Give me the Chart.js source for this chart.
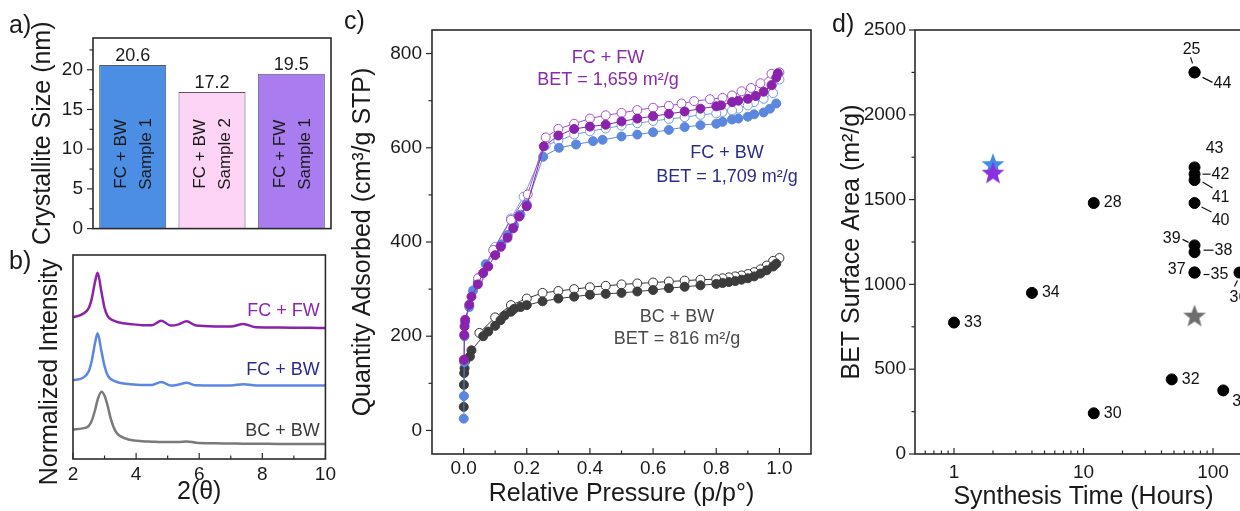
<!DOCTYPE html>
<html>
<head>
<meta charset="utf-8">
<script src="https://cdn.jsdelivr.net/npm/chart.js@4.4.1/dist/chart.umd.min.js"></script>
<style>
html, body { margin: 0; padding: 0; background: #fff; }
#page { position: relative; width: 1240px; height: 511px; overflow: hidden; }
#page canvas { position: absolute; }
</style>
</head>
<body>
<div id="page">
    <canvas id="sizeChart" width="340" height="250" style="left:0;top:0"></canvas>
    <canvas id="xrdChart" width="340" height="261" style="left:0;top:250px"></canvas>
    <canvas id="isoChart" width="480" height="511" style="left:340px;top:0"></canvas>
    <canvas id="betChart" width="440" height="511" style="left:830px;top:0"></canvas>
</div>
<script>
//a) crystallite size
let sizeLabels = [["FC + BW", "Sample 1"], ["FC + BW", "Sample 2"], ["FC + FW", "Sample 1"]];
let sizeValues = [20.6, 17.2, 19.5];
let sizeTicks = [0, 5, 10, 15, 20];
let sizeMinor = [2.5, 7.5, 12.5, 17.5, 22.5];

//b) xrd patterns
let xrdNames = ["FC + FW", "FC + BW", "BC + BW"];
let xrdTheta = [2.0, 2.3, 2.5, 2.6, 2.7, 2.78, 2.9, 3.0, 3.1, 3.2, 3.35, 3.5, 3.8, 4.2, 4.5, 4.8, 5.1, 5.35, 5.6, 5.9, 6.5, 7.0, 7.4, 7.8, 8.5, 9.5, 10.0];
let xrdFCFW = [6.95, 7.1, 7.4, 7.9, 8.7, 9.13, 8.2, 7.4, 7.0, 6.85, 6.75, 6.68, 6.62, 6.56, 6.56, 6.78, 6.54, 6.6, 6.75, 6.54, 6.5, 6.5, 6.62, 6.46, 6.45, 6.43, 6.42];
let xrdFCBW = [3.87, 3.97, 4.3, 4.85, 5.7, 6.16, 5.3, 4.55, 4.1, 3.92, 3.8, 3.73, 3.67, 3.63, 3.63, 3.78, 3.6, 3.65, 3.74, 3.61, 3.6, 3.6, 3.67, 3.6, 3.6, 3.6, 3.6];
let xrdBCBW = [1.45, 1.5, 1.62, 1.9, 2.4, 2.9, 3.3, 3.1, 2.6, 1.95, 1.35, 1.12, 0.94, 0.87, 0.85, 0.83, 0.83, 0.83, 0.86, 0.8, 0.77, 0.76, 0.75, 0.75, 0.74, 0.74, 0.73];
let thetaTicks = [2, 4, 6, 8, 10];
let thetaMinor = [3, 5, 7, 9];

//c) N2 isotherms (relative pressure, quantity adsorbed)
let fwAdsP = [0.001, 0.002, 0.003, 0.005, 0.018, 0.025, 0.045, 0.062, 0.078, 0.1, 0.118, 0.139, 0.157, 0.176, 0.2, 0.254, 0.3, 0.35, 0.4, 0.45, 0.5, 0.55, 0.6, 0.65, 0.7, 0.75, 0.8, 0.815, 0.85, 0.87, 0.9, 0.925, 0.95, 0.975, 0.99, 0.995];
let fwAdsV = [150, 203, 221, 235, 267, 284, 310, 334, 348, 372, 390, 409, 429, 454, 476, 603, 626, 640, 645, 649, 656, 662, 667, 672, 677, 683, 688, 690, 697, 700, 704, 710, 719, 733, 749, 758];
let fwDesP = [1.0, 0.975, 0.94, 0.91, 0.88, 0.85, 0.82, 0.78, 0.73, 0.69, 0.65, 0.6, 0.55, 0.5, 0.45, 0.4, 0.35, 0.3, 0.26, 0.203, 0.15, 0.094, 0.046];
let fwDesV = [760, 757, 737, 727, 720, 711, 706, 703, 699, 694, 689, 685, 680, 674, 669, 662, 651, 640, 622, 501, 447, 383, 323];
let bwAdsP = [0.0005, 0.001, 0.002, 0.003, 0.005, 0.018, 0.03, 0.045, 0.07, 0.1, 0.12, 0.14, 0.16, 0.18, 0.2, 0.252, 0.302, 0.356, 0.41, 0.44, 0.5, 0.55, 0.6, 0.65, 0.7, 0.75, 0.8, 0.82, 0.85, 0.87, 0.9, 0.92, 0.95, 0.97, 0.99];
let bwAdsV = [25, 73, 145, 200, 230, 262, 297, 315, 353, 375, 395, 415, 435, 458, 480, 581, 600, 607, 614, 617, 624, 628, 633, 638, 644, 648, 651, 655, 660, 662, 666, 671, 675, 683, 694];
let bwDesP = [1.0, 0.98, 0.95, 0.92, 0.9, 0.87, 0.85, 0.82, 0.8, 0.75, 0.7, 0.65, 0.6, 0.55, 0.5, 0.45, 0.4, 0.35, 0.3, 0.26, 0.19, 0.15, 0.1, 0.05];
let bwDesV = [745, 716, 704, 697, 690, 683, 679, 676, 673, 670, 665, 661, 657, 652, 647, 641, 635, 628, 615, 605, 496, 450, 390, 325];
let bcAdsP = [0.0005, 0.001, 0.002, 0.003, 0.005, 0.02, 0.025, 0.062, 0.078, 0.1, 0.117, 0.13, 0.15, 0.16, 0.18, 0.2, 0.25, 0.3, 0.35, 0.4, 0.45, 0.5, 0.55, 0.6, 0.65, 0.7, 0.75, 0.8, 0.82, 0.84, 0.86, 0.88, 0.9, 0.92, 0.94, 0.96, 0.98, 0.99];
let bcAdsV = [50, 97, 122, 132, 147, 157, 170, 200, 210, 222, 234, 244, 252, 258, 262, 266, 274, 280, 284, 288, 290, 292, 295, 298, 302, 305, 308, 311, 313, 315, 317, 320, 323, 327, 333, 340, 348, 354];
let bcDesP = [1.0, 0.98, 0.96, 0.94, 0.92, 0.9, 0.88, 0.86, 0.84, 0.82, 0.8, 0.75, 0.7, 0.65, 0.6, 0.55, 0.5, 0.45, 0.4, 0.35, 0.3, 0.25, 0.2, 0.15, 0.1, 0.05];
let bcDesV = [366, 360, 350, 342, 336, 332, 329, 327, 325, 323, 321, 320, 318, 316, 314, 312, 310, 307, 304, 300, 296, 292, 280, 266, 240, 207];
let pressureTicks = [0, 0.2, 0.4, 0.6, 0.8, 1.0];
let pressureMinor = [0.1, 0.3, 0.5, 0.7, 0.9];
let quantityTicks = [0, 200, 400, 600, 800];
let quantityMinor = [100, 300, 500, 700];

//d) literature BET vs synthesis time
let refNumbers = ["33", "34", "28", "30", "32", "31", "25", "44", "43", "42", "41", "40", "39", "38", "37", "35", "36"];
let refHours = [1, 4, 12, 12, 48, 120, 72, 72, 72, 72, 72, 72, 72, 72, 72, 72, 160];
let refArea = [775, 950, 1480, 240, 440, 375, 2250, 2250, 1690, 1650, 1615, 1480, 1230, 1190, 1070, 1070, 1070];
let starNames = ["FC + BW", "FC + FW", "BC + BW"];
let starHours = [2, 2, 72];
let starArea = [1709, 1659, 816];
let hourTicks = [1, 10, 100];
let hourMinor = [0.6, 0.7, 0.8, 0.9, 2, 3, 4, 5, 6, 7, 8, 9, 20, 30, 40, 50, 60, 70, 80, 90, 200];
let areaTicks = [0, 500, 1000, 1500, 2000, 2500];
let areaMinor = [250, 750, 1250, 1750, 2250];

Chart.defaults.font.family = "'Liberation Sans', Arial, sans-serif";
Chart.defaults.color = "#1a1a1a";
Chart.defaults.animation = false;
Chart.defaults.events = [];
Chart.defaults.plugins.legend.display = false;
Chart.defaults.plugins.tooltip.enabled = false;
let fontFamily = Chart.defaults.font.family;

let purple = "#8a22ac";
let blue = "#5b87de";
let dark = "#3c3c3c";

//box around the plot plus tick marks (y outward, x inward)
const framePlugin = {
    id: "frame",
    afterDatasetsDraw(chart, args, opts) {
        let {ctx, chartArea: a, scales} = chart;
        let mark = (x1, y1, x2, y2) => {
            ctx.beginPath();
            ctx.moveTo(x1, y1);
            ctx.lineTo(x2, y2);
            ctx.stroke();
        };
        ctx.save();
        ctx.strokeStyle = "#2b2b2b";
        ctx.lineWidth = 1.2;
        (opts.xMajor || []).forEach(v => {
            let px = scales.x.getPixelForValue(v);
            mark(px, a.bottom, px, a.bottom - 6);
        });
        (opts.xMinor || []).forEach(v => {
            let px = scales.x.getPixelForValue(v);
            if (px < a.right) mark(px, a.bottom, px, a.bottom - 3.5);
        });
        (opts.yMajor || []).forEach(v => {
            let py = scales.y.getPixelForValue(v);
            mark(a.left, py, a.left - 6, py);
        });
        (opts.yMinor || []).forEach(v => {
            let py = scales.y.getPixelForValue(v);
            mark(a.left, py, a.left - 3.5, py);
        });
        ctx.lineWidth = 1.6;
        ctx.strokeRect(a.left, a.top, a.width, a.height);
        ctx.restore();
    },
};

//free text: data coords by default, canvas pixels when px is set
const notesPlugin = {
    id: "notes",
    afterDraw(chart, args, opts) {
        let ctx = chart.ctx;
        (opts.items || []).forEach(n => {
            let x = n.px ? n.x : chart.scales.x.getPixelForValue(n.x);
            let y = n.px ? n.y : chart.scales.y.getPixelForValue(n.y);
            ctx.save();
            ctx.translate(x, y);
            if (n.rotate) ctx.rotate(n.rotate);
            ctx.font = (n.size || 18) + "px " + fontFamily;
            ctx.fillStyle = n.color || "#1a1a1a";
            ctx.textAlign = n.align || "center";
            ctx.textBaseline = "middle";
            ctx.fillText(n.text, 0, 0);
            ctx.restore();
        });
    },
};

//bar values on top and sample names inside
const barTextPlugin = {
    id: "barText",
    afterDatasetsDraw(chart) {
        let ctx = chart.ctx;
        let y = chart.scales.y;
        chart.getDatasetMeta(0).data.forEach((bar, i) => {
            ctx.save();
            ctx.fillStyle = "#1a1a1a";
            ctx.textAlign = "center";
            ctx.textBaseline = "middle";
            ctx.font = "18px " + fontFamily;
            ctx.fillText(sizeValues[i].toFixed(1), bar.x, bar.y - 9);
            ctx.font = "17px " + fontFamily;
            ctx.translate(bar.x + 1, y.getPixelForValue(9.4));
            ctx.rotate(-Math.PI / 2);
            sizeLabels[i].forEach((line, k) => ctx.fillText(line, 0, (k - 0.5) * 25));
            ctx.restore();
        });
    },
};

//reference numbers next to the literature points
let refPlacement = {
    "31": {dx: 9, dy: 11, align: "left"},
    "25": {dx: -3, dy: -23, align: "center", line: [-4, -15, -2, -9]},
    "44": {dx: 19, dy: 11, align: "left", line: [8, 5, 18, 10]},
    "43": {dx: 20, dy: -19, align: "center"},
    "42": {dx: 17, dy: 0, align: "left", line: [8, 0, 16, 0]},
    "41": {dx: 26, dy: 17, align: "center", line: [8, 2, 18, 8]},
    "40": {dx: 26, dy: 18, align: "center", line: [7, 4, 17, 9]},
    "39": {dx: -14, dy: -7, align: "right", line: [-12, -6, -6, -3]},
    "38": {dx: 20, dy: -2, align: "left", line: [9, -2, 19, -2]},
    "37": {dx: -9, dy: -3, align: "right"},
    "35": {dx: 16, dy: 2, align: "left", line: [9, 2, 15, 2]},
    "36": {dx: -1, dy: 25, align: "center", line: [-2, 8, -5, 14]},
};

const refPlugin = {
    id: "refs",
    afterDatasetsDraw(chart) {
        let ctx = chart.ctx;
        ctx.save();
        ctx.font = "16px " + fontFamily;
        ctx.fillStyle = "#111";
        ctx.strokeStyle = "#111";
        ctx.lineWidth = 1.2;
        ctx.textBaseline = "middle";
        chart.getDatasetMeta(1).data.forEach((pt, i) => {
            let p = refPlacement[refNumbers[i]] || {dx: 10, dy: 0, align: "left"};
            if (p.line) {
                ctx.beginPath();
                ctx.moveTo(pt.x + p.line[0], pt.y + p.line[1]);
                ctx.lineTo(pt.x + p.line[2], pt.y + p.line[3]);
                ctx.stroke();
            }
            ctx.textAlign = p.align;
            ctx.fillText(refNumbers[i], pt.x + p.dx, pt.y + p.dy);
        });
        ctx.restore();
    },
};

function toPoints(xs, ys) {
    return xs.map((x, i) => ({x: x, y: ys[i]}));
}

//force the tick values to the listed ones
function fixedTicks(list) {
    return s => { s.ticks = list.map(v => ({value: v})); };
}

function starImage(color) {
    let c = document.createElement("canvas");
    c.width = 26;
    c.height = 26;
    let g = c.getContext("2d");
    g.fillStyle = color;
    g.beginPath();
    for (let i = 0; i < 10; i++) {
        let r = i % 2 ? 5 : 12;
        let ang = -Math.PI / 2 + i * Math.PI / 5;
        g.lineTo(13 + r * Math.cos(ang), 14 + r * Math.sin(ang));
    }
    g.closePath();
    g.fill();
    return c;
}

let titleFont = {size: 25, lineHeight: 1};
let tickFont = {size: 19};

//a) crystallite size chart
new Chart(document.getElementById("sizeChart"), {
    type: "bar",
    data: {
        labels: sizeLabels,
        datasets: [{
            data: sizeValues,
            backgroundColor: ["#4b8ee4", "#fdd4f6", "#a97df0"],
            borderColor: "#5a5a5a",
            borderWidth: 1,
            categoryPercentage: 1,
            barPercentage: 0.845,
        }, ],
    },
    options: {
        responsive: false,
        layout: {padding: {top: 38, right: 9, bottom: 20, left: 0}},
        scales: {
            x: {display: false},
            y: {
                min: 0,
                max: 24,
                afterFit: s => { s.width = 93; },
                afterBuildTicks: fixedTicks(sizeTicks),
                grid: {display: false, drawTicks: false},
                border: {display: false},
                ticks: {padding: 10, font: tickFont, callback: v => String(v)},
                title: {display: true, text: "Crystallite Size (nm)", font: titleFont, padding: {top: 31, bottom: 0}, color: "#1a1a1a"},
            },
        },
        plugins: {
            frame: {yMajor: sizeTicks, yMinor: sizeMinor},
            notes: {items: [{text: "a)", x: 9, y: 26, px: true, align: "left", size: 25}]},
        },
    },
    plugins: [framePlugin, notesPlugin, barTextPlugin],
});

//b) xrd chart
let xrdColors = [purple, "#5d86e2", "#7a7a7a"];
let xrdSeries = [xrdFCFW, xrdFCBW, xrdBCBW];
new Chart(document.getElementById("xrdChart"), {
    type: "scatter",
    data: {
        datasets: xrdSeries.map((s, i) => ({
            label: xrdNames[i],
            data: toPoints(xrdTheta, s),
            showLine: true,
            borderColor: xrdColors[i],
            borderWidth: 2.5,
            pointRadius: 0,
            cubicInterpolationMode: "monotone",
        })),
    },
    options: {
        responsive: false,
        layout: {padding: {top: 5, right: 9, bottom: 0, left: 73}},
        scales: {
            x: {
                min: 2,
                max: 10,
                afterFit: s => { s.height = 52; },
                afterBuildTicks: fixedTicks(thetaTicks),
                grid: {display: false, drawTicks: false},
                border: {display: false},
                ticks: {padding: 4, font: tickFont, maxRotation: 0, callback: v => String(v)},
                title: {display: true, text: "2(θ)", font: titleFont, padding: {top: 0, bottom: 6}, color: "#1a1a1a"},
            },
            y: {display: false, min: 0, max: 10},
        },
        plugins: {
            frame: {xMajor: thetaTicks, xMinor: thetaMinor},
            notes: {items: [
                {text: "b)", x: 9, y: 12, px: true, align: "left", size: 25},
                {text: "Normalized Intensity", x: 50, y: 122, px: true, rotate: -Math.PI / 2, size: 25},
                {text: xrdNames[0], x: 9.82, y: 7.23, align: "right", color: "#8e24b0"},
                {text: xrdNames[1], x: 9.82, y: 4.36, align: "right", color: "#2b2b8c"},
                {text: xrdNames[2], x: 9.82, y: 1.35, align: "right", color: "#3a3a3a"},
            ]},
        },
    },
    plugins: [framePlugin, notesPlugin],
});

//c) isotherm chart
function isoSet(xs, ys, color, filled) {
    return {
        data: toPoints(xs, ys),
        showLine: true,
        borderColor: color,
        borderWidth: 1,
        pointRadius: 4.5,
        pointBorderWidth: 1,
        pointBorderColor: color,
        pointBackgroundColor: filled ? color : "#ffffff",
    };
}

new Chart(document.getElementById("isoChart"), {
    type: "scatter",
    data: {
        datasets: [
            isoSet(fwAdsP, fwAdsV, purple, true),
            isoSet(fwDesP, fwDesV, "#a54fcc", false),
            isoSet(bwAdsP, bwAdsV, blue, true),
            isoSet(bwDesP, bwDesV, "#6f9be6", false),
            isoSet(bcAdsP, bcAdsV, dark, true),
            isoSet(bcDesP, bcDesV, "#333333", false),
        ],
    },
    options: {
        responsive: false,
        layout: {padding: {top: 30, right: 9, bottom: 0, left: 0}},
        scales: {
            x: {
                min: -0.1,
                max: 1.1,
                afterFit: s => { s.height = 57; },
                afterBuildTicks: fixedTicks(pressureTicks),
                grid: {display: false, drawTicks: false},
                border: {display: false},
                ticks: {padding: 3, font: tickFont, maxRotation: 0, callback: v => v.toFixed(1)},
                title: {display: true, text: "Relative Pressure (p/p°)", font: titleFont, padding: {top: 0, bottom: 4}, color: "#1a1a1a"},
            },
            y: {
                min: -50,
                max: 850,
                afterFit: s => { s.width = 92; },
                afterBuildTicks: fixedTicks(quantityTicks),
                grid: {display: false, drawTicks: false},
                border: {display: false},
                ticks: {padding: 10, font: tickFont, callback: v => String(v)},
                title: {display: true, text: "Quantity Adsorbed (cm³/g STP)", font: titleFont, padding: {top: 11, bottom: 0}, color: "#1a1a1a"},
            },
        },
        plugins: {
            frame: {xMajor: pressureTicks, xMinor: pressureMinor, yMajor: quantityTicks, yMinor: quantityMinor},
            notes: {items: [
                {text: "c)", x: 4, y: 22, px: true, align: "left", size: 25},
                {text: "FC + FW", x: 0.457, y: 791, color: "#8a2aa8"},
                {text: "BET = 1,659 m²/g", x: 0.457, y: 743, color: "#8a2aa8"},
                {text: "FC + BW", x: 0.834, y: 588, color: "#2c2c8c"},
                {text: "BET = 1,709 m²/g", x: 0.834, y: 538, color: "#2c2c8c"},
                {text: "BC + BW", x: 0.676, y: 241, color: "#4a4a4a"},
                {text: "BET = 816 m²/g", x: 0.676, y: 193, color: "#4a4a4a"},
            ]},
        },
    },
    plugins: [framePlugin, notesPlugin],
});

//d) BET vs synthesis time
let starImages = [starImage("#3f8be6"), starImage("#8b2fe0"), starImage("#6e6e6e")];
new Chart(document.getElementById("betChart"), {
    type: "scatter",
    data: {
        datasets: [{
            label: "This work",
            data: toPoints(starHours, starArea),
            pointStyle: ctx => starImages[ctx.dataIndex],
        }, {
            label: "Literature",
            data: toPoints(refHours, refArea),
            pointRadius: 5.5,
            pointBackgroundColor: "#000000",
            pointBorderColor: "#000000",
        }, ],
    },
    options: {
        responsive: false,
        layout: {padding: {top: 30, right: 18, bottom: 0, left: 0}},
        scales: {
            x: {
                type: "logarithmic",
                min: 0.5,
                max: 200,
                afterFit: s => { s.height = 57; },
                afterBuildTicks: fixedTicks(hourTicks),
                grid: {display: false, drawTicks: false},
                border: {display: false},
                ticks: {autoSkip: false, maxRotation: 0, padding: 7, font: tickFont, callback: v => String(v)},
                title: {display: true, text: "Synthesis Time (Hours)", font: titleFont, padding: {top: 0, bottom: 1}, color: "#1a1a1a"},
            },
            y: {
                min: 0,
                max: 2500,
                afterFit: s => { s.width = 85; },
                afterBuildTicks: fixedTicks(areaTicks),
                grid: {display: false, drawTicks: false},
                border: {display: false},
                ticks: {padding: 9, font: tickFont, callback: v => String(v)},
                title: {display: true, text: "BET Surface Area (m²/g)", font: titleFont, padding: {top: 10, bottom: 0}, color: "#1a1a1a"},
            },
        },
        plugins: {
            frame: {xMajor: hourTicks, xMinor: hourMinor, yMajor: areaTicks, yMinor: areaMinor},
            notes: {items: [{text: "d)", x: 2, y: 25, px: true, align: "left", size: 25}]},
        },
    },
    plugins: [framePlugin, notesPlugin, refPlugin],
});
</script>
</body>
</html>
